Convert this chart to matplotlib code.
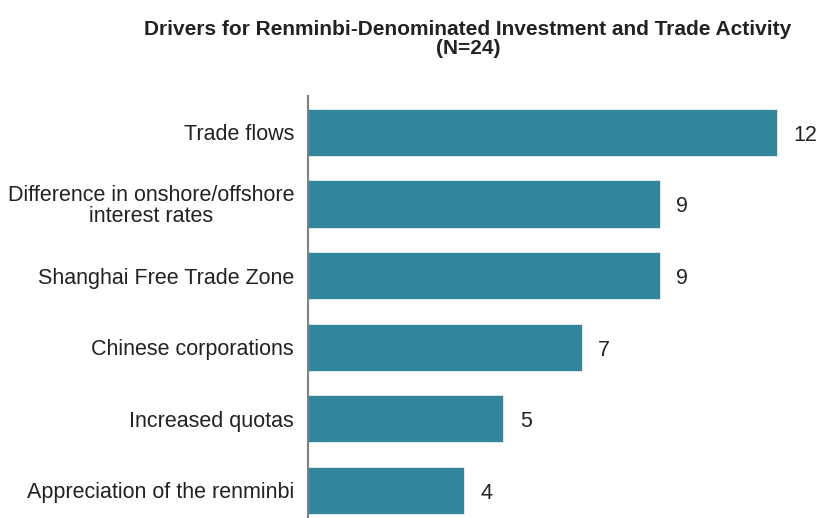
""" Horizontal bar chart: drivers for renminbi-denominated activity. """

import matplotlib.pyplot as plt

plt.rcParams['font.family'] = ['Liberation Sans', 'DejaVu Sans']

# Chart data, top bar first.
categories = [ 'Trade flows',
               'Difference in onshore/offshore\ninterest rates',
               'Shanghai Free Trade Zone',
               'Chinese corporations',
               'Increased quotas',
               'Appreciation of the renminbi' ]
counts = [ 12, 9, 9, 7, 5, 4 ]
title = 'Drivers for Renminbi-Denominated Investment and Trade Activity\n(N=24)'

bar_color = '#31869b'
text_color = '#222222'

fig = plt.figure( figsize=( 8.18, 5.18 ), dpi=100 )
ax = fig.add_axes( [ 308 / 818, 0.0, 1 - 308 / 818, 1 - 96 / 518 ] )

ypos = range( len( categories ) )
ax.barh( ypos, counts, height=0.66, color=bar_color, edgecolor='#e8f0f2',
         linewidth=0.6 )

ax.set_xlim( 0, 510 / 39.08 )
ax.set_ylim( len( categories ) - 1 + 0.384, -0.507 )

# Category labels on the left, value labels past each bar.
ax.set_yticks( list( ypos ) )
ax.set_yticklabels( categories, fontsize=15.5, color=text_color,
                    multialignment='center', linespacing=1.0 )
ax.tick_params( axis='y', length=0, pad=10 )
ax.set_xticks( [] )

for y, v in zip( ypos, counts ):
    ax.text( v + 0.42, y + 0.04, str( v ), va='center', ha='left',
             fontsize=15.5, color=text_color )

for side in [ 'top', 'right', 'bottom' ]:
    ax.spines[ side ].set_visible( False )
ax.spines[ 'left' ].set_color( '#808080' )
ax.spines[ 'left' ].set_linewidth( 1.5 )

fig.text( 468 / 818, 1 - 39 / 518, title, ha='center', va='center',
          fontsize=15, fontweight='bold', color=text_color,
          linespacing=1.05 )

fig.savefig( 'out.png', dpi=100 )
